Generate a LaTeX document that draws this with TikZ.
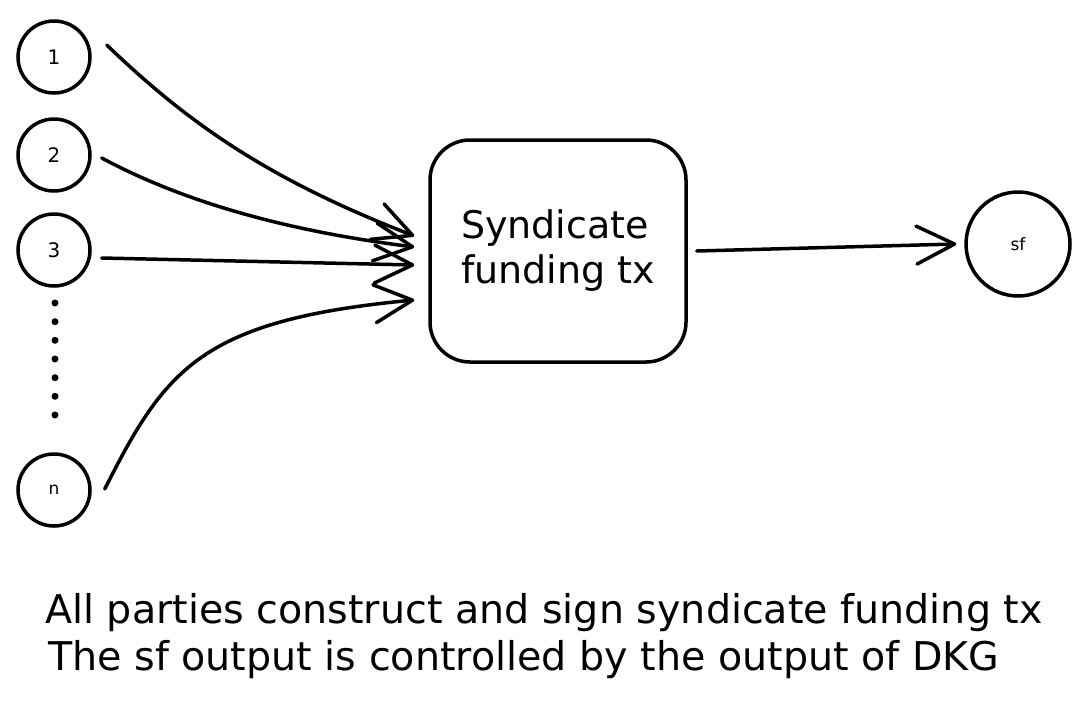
\documentclass[tikz,border=0pt]{standalone}
\usepackage{fontspec}
\setmainfont{DejaVu Sans}
\usetikzlibrary{arrows.meta,calc}
\begin{document}
\begin{tikzpicture}[x=1pt,y=-1pt,
  party/.style={circle,draw,line width=3.5pt,minimum size=72pt,inner sep=0pt,font=\fontsize{20}{22}\selectfont},
  txbox/.style={draw,line width=3.5pt,rounded corners=40pt,minimum width=256pt,minimum height=222pt,align=left,font=\fontsize{38}{45}\selectfont},
  link/.style={line width=3.5pt,line cap=round,-{Straight Barb[length=38pt,width=38pt,round]}},
  caption/.style={anchor=base west,inner sep=0pt,font=\fontsize{39.6}{48}\selectfont}]
\useasboundingbox (0,0) rectangle (1091,702);
\node[party] (c1) at (54,57) {1};
\node[party] (c2) at (54,155) {2};
\node[party] (c3) at (54,250) {3};
\node[party,font=\fontsize{17}{19}\selectfont] (cn) at (54,490) {n};
\foreach \yy in {303,321.7,340.3,359,377.7,396.3,415}
  \fill (55,\yy) circle (3.5);
\node[txbox] (box) at (558,251) {Syndicate\\funding tx};
\node[party,minimum size=104pt,font=\fontsize{17}{19}\selectfont] (sf) at (1018,244) {sf};
\draw[link] ($(c1.east)+(15,-12)$) .. controls (190,125) and (270,180) .. ($(box.west)+(-14,-15)$);
\draw[link] ($(c2.east)+(10,3)$) .. controls (180,200) and (280,230) .. ($(box.west)+(-14,-4)$);
\draw[link] ($(c3.east)+(10,8)$) -- ($(box.west)+(-14,14)$);
\draw[link] ($(cn.east)+(13,-1)$) .. controls (165,370) and (200,320) .. ($(box.west)+(-14,49)$);
\draw[link] ($(box.east)+(9,0)$) -- ($(sf.west)+(-8,0)$);
\node[caption] (t1) at (45,623) {All parties construct and sign syndicate funding tx};
\node[caption] (t2) at (48,670) {The sf output is controlled by the output of DKG};
\end{tikzpicture}
\end{document}
